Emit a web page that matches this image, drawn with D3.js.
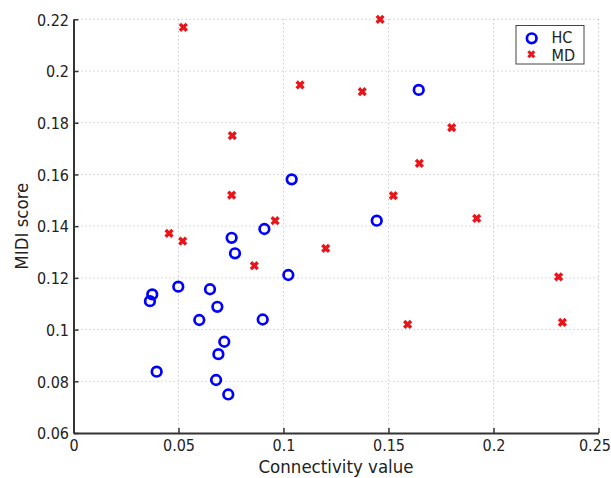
<!DOCTYPE html>
<html lang="en">
<head>
  <meta charset="UTF-8">
  <title>MIDI score vs connectivity</title>
  <style>
    body { margin: 0; background: #fff; }
    text { font-family: "DejaVu Sans Condensed", "DejaVu Sans", sans-serif; fill: #222; }
  </style>
</head>
<body>
  <div id="chart"></div>
  <script src="https://d3js.org/d3.v7.min.js"></script>
  <script>
    // healthy controls (blue circles)
    const hcX = [0.1644, 0.1444, 0.1039, 0.1023, 0.0909, 0.0753, 0.0769, 0.0499, 0.0650, 0.0375,
                 0.0364, 0.0685, 0.0599, 0.0901, 0.0718, 0.0690, 0.0396, 0.0679, 0.0737];
    const hcY = [0.1927, 0.1421, 0.1581, 0.1211, 0.1389, 0.1355, 0.1295, 0.1166, 0.1156, 0.1136,
                 0.1110, 0.1088, 0.1037, 0.1039, 0.0953, 0.0905, 0.0837, 0.0805, 0.0749];
    // MD group (red crosses)
    const mdX = [0.0523, 0.1460, 0.1079, 0.1375, 0.1801, 0.0756, 0.1647, 0.0753, 0.1523, 0.1920,
                 0.0960, 0.0455, 0.0520, 0.1201, 0.0861, 0.2310, 0.1591, 0.2328];
    const mdY = [0.2169, 0.2200, 0.1946, 0.1920, 0.1781, 0.1750, 0.1643, 0.1520, 0.1518, 0.1430,
                 0.1421, 0.1372, 0.1342, 0.1314, 0.1247, 0.1204, 0.1020, 0.1028];

    const xTicks = [0, 0.05, 0.1, 0.15, 0.2, 0.25];
    const yTicks = [0.06, 0.08, 0.1, 0.12, 0.14, 0.16, 0.18, 0.2, 0.22];
    const seriesNames = ["HC", "MD"];

    const W = 611, H = 478;
    const margin = { top: 19.3, right: 12.5, bottom: 45, left: 73.5 };
    const width = W - margin.left - margin.right;
    const height = H - margin.top - margin.bottom;

    const svg = d3.select("#chart").append("svg")
      .attr("width", W)
      .attr("height", H);

    const g = svg.append("g")
      .attr("transform", `translate(${margin.left},${margin.top})`);

    const x = d3.scaleLinear().domain([0, 0.25]).range([0, width]);
    const y = d3.scaleLinear().domain([0.06, 0.22]).range([height, 0]);

    // dotted grid
    g.append("g").selectAll("line")
      .data(xTicks.slice(1))
      .join("line")
        .attr("x1", d => x(d)).attr("x2", d => x(d))
        .attr("y1", 0).attr("y2", height)
        .attr("stroke", "#b5b5b5")
        .attr("stroke-width", 1)
        .attr("stroke-dasharray", "1,3");
    g.append("g").selectAll("line")
      .data(yTicks.slice(1))
      .join("line")
        .attr("y1", d => y(d)).attr("y2", d => y(d))
        .attr("x1", 0).attr("x2", width)
        .attr("stroke", "#b5b5b5")
        .attr("stroke-width", 1)
        .attr("stroke-dasharray", "1,3");

    // axes, ticks pointing inward
    const xAxis = g.append("g")
      .attr("transform", `translate(0,${height})`)
      .call(d3.axisBottom(x).tickValues(xTicks).tickFormat(d3.format("")).tickSizeInner(-5).tickSizeOuter(0));
    const yAxis = g.append("g")
      .call(d3.axisLeft(y).tickValues(yTicks).tickFormat(d3.format("")).tickSizeInner(-5).tickSizeOuter(0));

    [xAxis, yAxis].forEach(a => {
      a.select(".domain").attr("stroke", "#333").attr("stroke-width", 2);
      a.selectAll(".tick line").attr("stroke", "#333").attr("stroke-width", 1.5);
      a.selectAll(".tick text")
        .style("font-family", "'DejaVu Sans Condensed', 'DejaVu Sans', sans-serif")
        .style("font-size", "16px")
        .attr("fill", "#222");
    });
    yAxis.selectAll(".tick text").attr("x", -4.5).attr("dy", "0.36em");
    xAxis.selectAll(".tick text").attr("y", 6).attr("dy", "0.75em");
    // keep the last label inside the page
    xAxis.selectAll(".tick text").filter(d => d === 0.25).attr("text-anchor", "end").attr("dx", "12px");

    // points
    const hc = hcX.map((v, i) => ({ x: v, y: hcY[i] }));
    const md = mdX.map((v, i) => ({ x: v, y: mdY[i] }));

    const cross = "M-3.4,-3.4L3.4,3.4M-3.4,3.4L3.4,-3.4";

    g.append("g").selectAll("path")
      .data(md)
      .join("path")
        .attr("transform", d => `translate(${x(d.x)},${y(d.y)})`)
        .attr("d", cross)
        .attr("stroke", "#e8161b")
        .attr("stroke-width", 3.4)
        .attr("fill", "none");

    g.append("g").selectAll("circle")
      .data(hc)
      .join("circle")
        .attr("cx", d => x(d.x))
        .attr("cy", d => y(d.y))
        .attr("r", 4.8)
        .attr("fill", "none")
        .attr("stroke", "#0000ff")
        .attr("stroke-width", 2.7);

    // legend
    const lg = svg.append("g").attr("transform", "translate(516,25.5)");
    lg.append("rect")
      .attr("width", 68).attr("height", 38.5)
      .attr("fill", "#fff")
      .attr("stroke", "#444")
      .attr("stroke-width", 1);
    lg.append("circle")
      .attr("cx", 15.7).attr("cy", 12.8).attr("r", 4.8)
      .attr("fill", "none").attr("stroke", "#0000ff").attr("stroke-width", 2.7);
    lg.append("path")
      .attr("transform", "translate(15.3,28.8)")
      .attr("d", "M-3,-3L3,3M-3,3L3,-3")
      .attr("stroke", "#e8161b").attr("stroke-width", 3).attr("fill", "none");
    lg.selectAll("text.lab")
      .data(seriesNames)
      .join("text")
        .attr("class", "lab")
        .attr("x", 35.5)
        .attr("y", (d, i) => 17.5 + i * 17.5)
        .style("font-size", "16px")
        .text(d => d);

    // axis titles
    svg.append("text")
      .attr("x", margin.left + width / 2)
      .attr("y", 473)
      .attr("text-anchor", "middle")
      .style("font-size", "18.5px")
      .text("Connectivity value");
    svg.append("text")
      .attr("transform", `translate(28,${margin.top + height / 2}) rotate(-90)`)
      .attr("text-anchor", "middle")
      .style("font-size", "18.5px")
      .text("MIDI score");
  </script>
</body>
</html>
